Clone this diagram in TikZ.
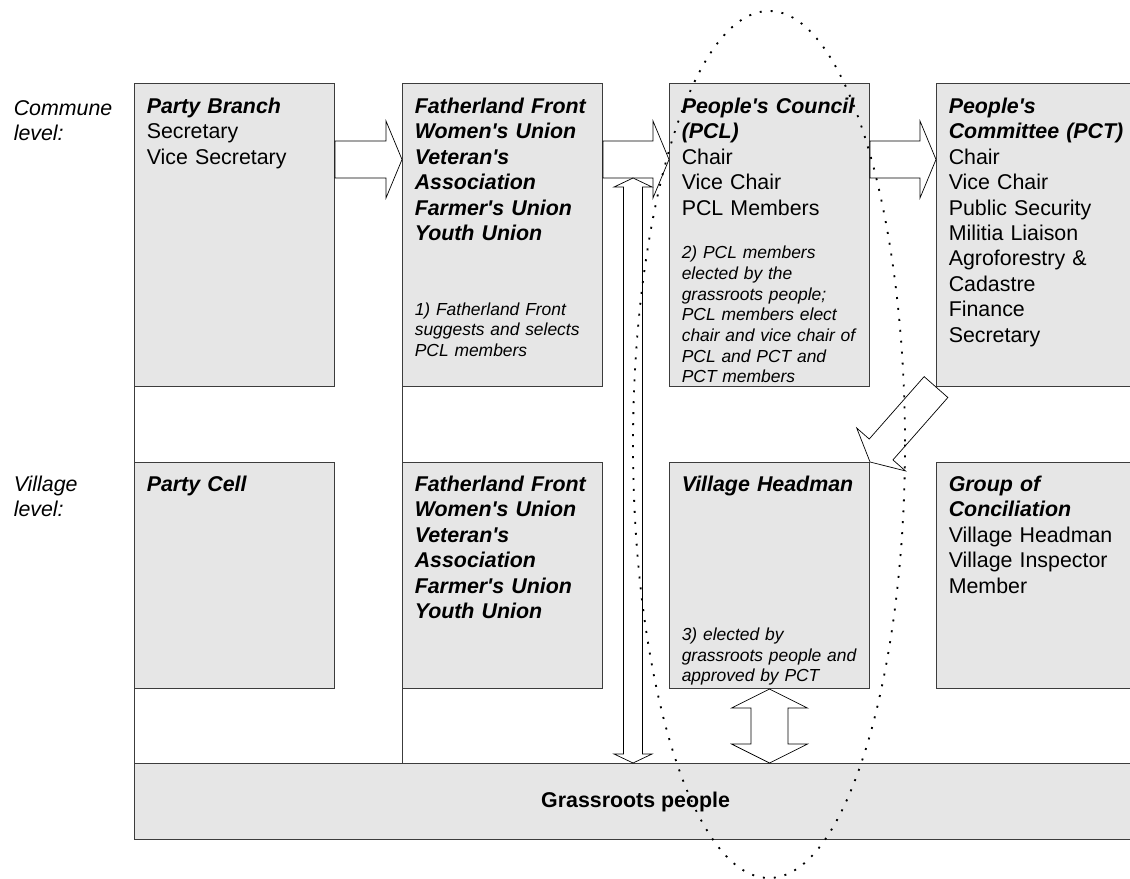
\documentclass[tikz,border=0pt]{standalone}
\usepackage{fontspec}
\setmainfont{Liberation Sans}
\usepackage{tikz}
\usetikzlibrary{calc,positioning}
\definecolor{boxfill}{RGB}{230,230,230}
\definecolor{boxline}{RGB}{60,60,60}
\newcommand{\apos}{\textquotesingle}
\newcommand{\mainsize}{\fontsize{15.2}{18.07}\selectfont}
\newcommand{\notesize}{\fontsize{12.4}{14.65}\selectfont}
\tikzstyle{box} = [draw=boxline, fill=boxfill, line width=0.7pt, rectangle, anchor=north west, inner sep=0pt, minimum width=5cm]
\tikzstyle{topbox} = [box, minimum height=7.575cm]
\tikzstyle{lowbox} = [box, minimum height=5.65cm]
\tikzstyle{boxtext} = [anchor=base west, inner sep=0pt, text width=5.2cm, align=left, font=\mainsize]
\tikzstyle{notetext} = [boxtext, font=\notesize\itshape]
\tikzstyle{levellabel} = [boxtext, text width=3cm, font=\mainsize\itshape]
\tikzstyle{blockarrow} = [draw=black, fill=white, line width=0.5pt, line join=miter]
\tikzstyle{focus} = [line width=1.3pt, dash pattern=on 1.4pt off 6.4pt]

% block arrow: tail, tip, half shaft, half head, head length (in px)
\newcommand{\fatarrow}[5]{%
  \coordinate (fa-h) at ($(#2)!#5*0.025cm!(#1)$);
  \draw[blockarrow] ($(#1)!#3*0.025cm!90:(#2)$) -- ($(fa-h)!#3*0.025cm!90:(#2)$)
    -- ($(fa-h)!#4*0.025cm!90:(#2)$) -- (#2) -- ($(fa-h)!#4*0.025cm!-90:(#2)$)
    -- ($(fa-h)!#3*0.025cm!-90:(#2)$) -- ($(#1)!#3*0.025cm!-90:(#2)$) -- cycle;
}
% double headed block arrow
\newcommand{\fatdblarrow}[5]{%
  \coordinate (da-a) at ($(#1)!#5*0.025cm!(#2)$);
  \coordinate (da-b) at ($(#2)!#5*0.025cm!(#1)$);
  \draw[blockarrow] (#1) -- ($(da-a)!#4*0.025cm!90:(#2)$) -- ($(da-a)!#3*0.025cm!90:(#2)$)
    -- ($(da-b)!#3*0.025cm!90:(#2)$) -- ($(da-b)!#4*0.025cm!90:(#2)$) -- (#2)
    -- ($(da-b)!#4*0.025cm!-90:(#2)$) -- ($(da-b)!#3*0.025cm!-90:(#2)$)
    -- ($(da-a)!#3*0.025cm!-90:(#2)$) -- ($(da-a)!#4*0.025cm!-90:(#2)$) -- cycle;
}

\begin{document}
\begin{tikzpicture}[x=0.025cm, y=-0.025cm]
\useasboundingbox (0,0) rectangle (1130,879);

% Level labels
\node[levellabel] (commune) at (13.5,115.5) {Commune\\level:};
\node[levellabel] (village) at (13.5,491.5) {Village\\level:};

% Grassroots
\node[box, minimum width=25.05cm, minimum height=1.9cm, anchor=north west, font=\mainsize\bfseries] (gr) at (134,763) {Grassroots people};

% Commune boxes
\node[topbox] (pb) at (134,83) {};
\node[topbox] (ffa) at (402,83) {};
\node[topbox] (pcl) at (669,83) {};
\node[topbox] (pct) at (936,83) {};

% Village boxes
\node[lowbox] (pc) at (134,462) {};
\node[lowbox] (ffb) at (402,462) {};
\node[lowbox] (vh) at (669,462) {};
\node[lowbox] (gc) at (936,462) {};

% Column lines
\draw[boxline, line width=0.7pt] (pb.south west) -- (pc.north west) (pc.south west) -- (pc.south west |- gr.north);
\draw[boxline, line width=0.7pt] (ffa.south west) -- (ffb.north west) (ffb.south west) -- (ffb.south west |- gr.north);

% Box texts
\node[boxtext] (pbtext) at ($(pb.north west)+(12.5,30.5)$) {\textbf{\textit{Party Branch}}\\Secretary\\Vice Secretary};
\node[boxtext, font=\mainsize\bfseries\itshape] (ffatext) at ($(ffa.north west)+(12.5,30.5)$) {Fatherland Front\\Women\apos s Union\\Veteran\apos s\\Association\\Farmer\apos s Union\\Youth Union};
\node[notetext] (ffanote) at ($(ffa.north west)+(12.5,232)$) {1) Fatherland Front\\suggests and selects\\PCL members};
\node[boxtext] (pcltext) at ($(pcl.north west)+(12.5,30.5)$) {\textbf{\textit{People\apos s Council}}\\\textbf{\textit{(PCL)}}\\Chair\\Vice Chair\\PCL Members};
\node[notetext] (pclnote) at ($(pcl.north west)+(12.5,176)$) {2) PCL members\\elected by the\\grassroots people;\\PCL members elect\\chair and vice chair of\\PCL and PCT and\\PCT members};
\node[boxtext] (pcttext) at ($(pct.north west)+(12.5,30.5)$) {\textbf{\textit{People\apos s}}\\\textbf{\textit{Committee (PCT)}}\\Chair\\Vice Chair\\Public Security\\Militia Liaison\\Agroforestry \&\\Cadastre\\Finance\\Secretary};

\node[boxtext, font=\mainsize\bfseries\itshape] (pctext) at ($(pc.north west)+(12.5,29.5)$) {Party Cell};
\node[boxtext, font=\mainsize\bfseries\itshape] (ffbtext) at ($(ffb.north west)+(12.5,29.5)$) {Fatherland Front\\Women\apos s Union\\Veteran\apos s\\Association\\Farmer\apos s Union\\Youth Union};
\node[boxtext, font=\mainsize\bfseries\itshape] (vhtext) at ($(vh.north west)+(12.5,29.5)$) {Village Headman};
\node[notetext] (vhnote) at ($(vh.north west)+(12.5,178.5)$) {3) elected by\\grassroots people and\\approved by PCT};
\node[boxtext] (gctext) at ($(gc.north west)+(12.5,29.5)$) {\textbf{\textit{Group of}}\\\textbf{\textit{Conciliation}}\\Village Headman\\Village Inspector\\Member};

% Arrows
\coordinate (a1) at ($(pb.north east)+(0,76.5)$);
\coordinate (b1) at ($(ffa.north west)+(0,76.5)$);
\coordinate (a2) at ($(ffa.north east)+(0,76.5)$);
\coordinate (b2) at ($(pcl.north west)+(0,76.5)$);
\coordinate (a3) at ($(pcl.north east)+(0,76.5)$);
\coordinate (b3) at ($(pct.north west)+(0,76.5)$);
\fatarrow{a1}{b1}{18.5}{38.5}{16}
\fatarrow{a2}{b2}{18.5}{38.5}{16}
\fatarrow{a3}{b3}{18.5}{38.5}{16}
\fatarrow{pct.south west}{vh.north east}{15.8}{32.5}{16.7}

\coordinate (gtop) at ($(ffa.north east)+(30,95)$);
\coordinate (gbot) at (gtop |- gr.north);
\fatdblarrow{gtop}{gbot}{9.5}{19}{9}
\coordinate (vbot) at (vh.south |- gr.north);
\fatdblarrow{vh.south}{vbot}{18.5}{38}{19}

% Focus
\draw[focus] (769,444.5) ellipse [x radius=136, y radius=433.5];
\end{tikzpicture}
\end{document}
